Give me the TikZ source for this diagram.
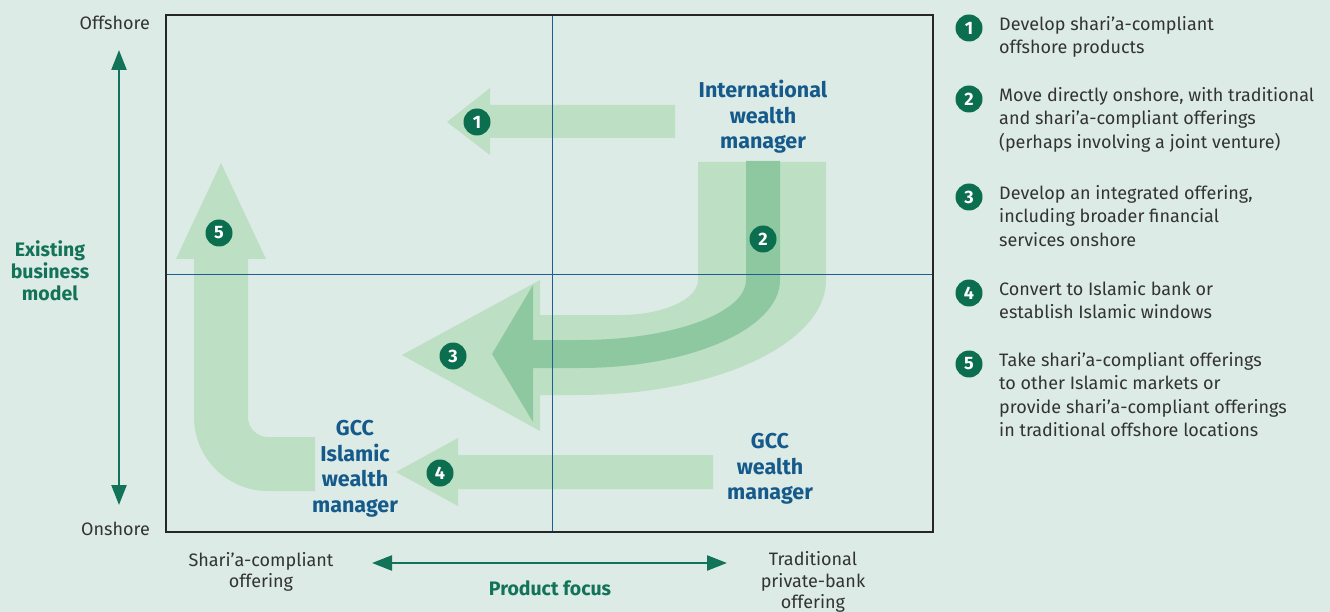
\documentclass[tikz,border=0pt]{standalone}
\usepackage{fontspec}
\setmainfont{Fira Sans}
\usetikzlibrary{arrows.meta}
\definecolor{bgmint}{HTML}{DCEBE5}
\definecolor{lightband}{HTML}{BDDFC4}
\definecolor{darkband}{HTML}{8EC8A0}
\definecolor{badgegreen}{HTML}{0B6E4F}
\definecolor{axisgreen}{HTML}{137358}
\definecolor{labelblue}{HTML}{155A8A}
\definecolor{gridblue}{HTML}{1F5D96}
\definecolor{bodytext}{HTML}{333333}
\begin{document}
\begin{tikzpicture}[x=1pt,y=-1pt,
  badge/.style={circle,fill=badgegreen,text=white,minimum size=27pt,inner sep=0pt,
    font=\fontsize{18}{18}\selectfont\bfseries},
  player/.style={text=labelblue,align=center,font=\fontsize{21.5}{25.5}\selectfont\bfseries},
  legend/.style={text=bodytext,anchor=north west,align=left,inner sep=0pt,
    font=\fontsize{18}{23.5}\selectfont},
  axislabel/.style={text=bodytext,align=center,inner sep=0pt,
    font=\fontsize{18}{21.5}\selectfont},
  axistitle/.style={text=axisgreen,align=center,inner sep=0pt,
    font=\fontsize{19.5}{22}\selectfont\bfseries},
  axisline/.style={draw=axisgreen,line width=2.4pt,
    {Triangle[length=20pt,width=15pt]}-{Triangle[length=20pt,width=15pt]}},
  lightarrow/.style={fill=lightband},
  darkarrow/.style={fill=darkband},
]
% page background
\fill[bgmint] (0,0) rectangle (1330,612);
\useasboundingbox (0,0) rectangle (1330,612);

% ---- arrow 1: offshore product development
\fill[lightarrow] (675,105) -- (490,105) -- (490,88) -- (447,122) -- (490,155)
  -- (490,138) -- (675,138) -- cycle;

% ---- arrow 4: conversion onshore
\fill[lightarrow] (713,455) -- (458,455) -- (458,438) -- (396,472) -- (458,506)
  -- (458,489) -- (713,489) -- cycle;

% ---- arrow 5: bent arrow up the left side
\fill[lightarrow] (315,437) -- (268,437)
  arc[start angle=90,end angle=180,radius=20]
  -- (248,259) -- (266,259) -- (221,163) -- (176,259) -- (194,259) -- (194,417)
  arc[start angle=180,end angle=90,radius=74]
  -- (315,491) -- cycle;

% ---- arrows 2 and 3: broad bent band with narrow core
\fill[lightarrow] (698,162) -- (826,162) -- (826,280)
  arc[start angle=0,end angle=90,x radius=246,y radius=115]
  -- (540,395) -- (540,431) -- (402,355) -- (540,280) -- (540,315) -- (620,315)
  arc[start angle=90,end angle=0,x radius=78,y radius=35] -- cycle;
\fill[darkarrow] (746,161) -- (780,161) -- (780,280)
  arc[start angle=0,end angle=90,x radius=200,y radius=88]
  -- (533,368) -- (533,422) -- (492,354) -- (533,285) -- (533,340) -- (580,340)
  arc[start angle=90,end angle=0,x radius=166,y radius=60] -- cycle;

% ---- quadrant grid and frame
\draw[gridblue,line width=1.8pt] (552.5,15) -- (552.5,532);
\draw[gridblue,line width=1.8pt] (166,274.5) -- (933,274.5);
\draw[black!85,line width=2pt] (166,15) rectangle (933,532);

% ---- numbered badges on the arrows
\node[badge] (b1) at (477,122) {1};
\node[badge] (b2) at (763,239) {2};
\node[badge] (b3) at (453,356) {3};
\node[badge] (b4) at (440,473) {4};
\node[badge] (b5) at (219,233) {5};

% ---- player labels
\node[player] (iwm) at (763,117) {International\\wealth\\manager};
\node[player] (gwm) at (770,469) {GCC\\wealth\\manager};
\node[player] (giwm) at (355,469) {GCC\\Islamic\\wealth\\manager};

% ---- vertical axis
\coordinate (vtop) at (119,50);
\coordinate (vbot) at (119,505);
\draw[axisline] (vtop) -- (vbot);
\node[axislabel,anchor=east] (offshore) at (150,23) {Offshore};
\node[axislabel,anchor=east] (onshore) at (150,529) {Onshore};
\node[axistitle] (bizmodel) at (50,271) {Existing\\business\\model};

% ---- horizontal axis
\coordinate (hleft) at (372,563);
\coordinate (hright) at (727,563);
\draw[axisline] (hleft) -- (hright);
\node[axislabel] (sharia) at (261,572) {Shari’a-compliant\\offering};
\node[axislabel] (traditional) at (813,582) {Traditional\\private-bank\\offering};
\node[axistitle] (focus) at (550,588) {Product focus};

% ---- legend
\node[badge] (l1) at (969,28) {1};
\node[badge] (l2) at (969,99) {2};
\node[badge] (l3) at (969,197) {3};
\node[badge] (l4) at (969,293) {4};
\node[badge] (l5) at (969,364) {5};
\node[legend] (t1) at (999,16) {Develop shari’a-compliant\\offshore products};
\node[legend] (t2) at (999,87) {Move directly onshore, with traditional\\and shari’a-compliant offerings\\(perhaps involving a joint venture)};
\node[legend] (t3) at (999,185) {Develop an integrated offering,\\including broader financial\\services onshore};
\node[legend] (t4) at (999,281) {Convert to Islamic bank or\\establish Islamic windows};
\node[legend] (t5) at (999,352) {Take shari’a-compliant offerings\\to other Islamic markets or\\provide shari’a-compliant offerings\\in traditional offshore locations};
\end{tikzpicture}
\end{document}
